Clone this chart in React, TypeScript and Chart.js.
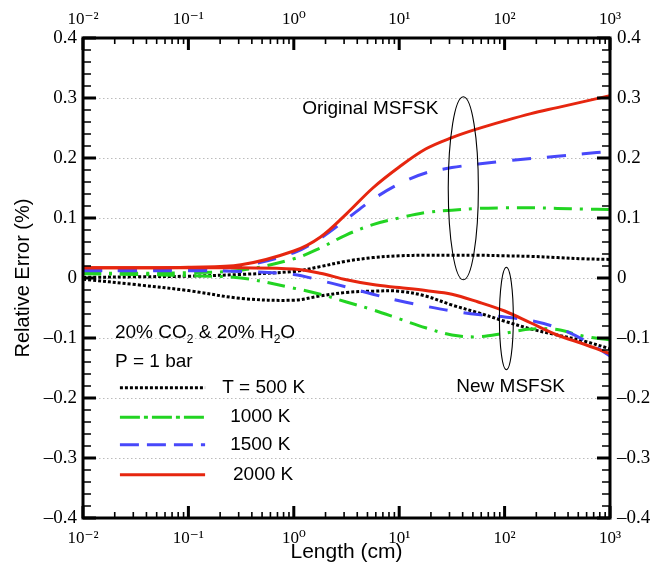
import { useEffect, useRef } from 'react';
import { Chart, registerables } from 'chart.js';
Chart.register(...registerables);

// Path length (cm)
const lengthsCm = [0.01, 0.0316, 0.1, 0.316, 1, 1.78, 3.16, 5.62, 10, 17.8, 31.6, 56.2, 100, 178, 316, 562, 1000];

// Original MSFSK relative error (%)
const orig500K = [0.001, 0.002, 0.003, 0.006, 0.011, 0.019, 0.028, 0.034, 0.037, 0.038, 0.038, 0.038, 0.037, 0.036, 0.034, 0.032, 0.031];
const orig1000K = [0.008, 0.008, 0.009, 0.013, 0.032, 0.05, 0.072, 0.089, 0.1, 0.109, 0.113, 0.116, 0.117, 0.117, 0.116, 0.115, 0.114];
const orig1500K = [0.013, 0.013, 0.015, 0.02, 0.042, 0.066, 0.098, 0.131, 0.157, 0.175, 0.184, 0.19, 0.195, 0.199, 0.203, 0.207, 0.211];
const orig2000K = [0.017, 0.017, 0.018, 0.022, 0.045, 0.068, 0.107, 0.15, 0.185, 0.215, 0.234, 0.249, 0.262, 0.274, 0.284, 0.294, 0.304];

// New MSFSK relative error (%)
const new500K = [-0.002, -0.011, -0.021, -0.034, -0.037, -0.03, -0.024, -0.022, -0.022, -0.03, -0.045, -0.058, -0.072, -0.085, -0.095, -0.105, -0.118];
const new1000K = [0.007, 0.006, 0.004, 0.0, -0.017, -0.027, -0.04, -0.053, -0.068, -0.083, -0.095, -0.098, -0.092, -0.085, -0.086, -0.097, -0.103];
const new1500K = [0.012, 0.012, 0.012, 0.011, 0.006, -0.004, -0.015, -0.027, -0.038, -0.047, -0.055, -0.061, -0.065, -0.071, -0.083, -0.103, -0.13];
const new2000K = [0.017, 0.017, 0.017, 0.017, 0.015, 0.008, -0.003, -0.011, -0.016, -0.021, -0.027, -0.04, -0.055, -0.075, -0.095, -0.11, -0.126];

const xTickValues = [0.01, 0.1, 1, 10, 100, 1000];
const xTickLabels = ['10\u207B\u00B2', '10\u207B\u00B9', '10\u2070', '10\u00B9', '10\u00B2', '10\u00B3'];
const legendLabels = ['T = 500 K', '1000 K', '1500 K', '2000 K'];

const BLACK = '#000000';
const GREEN = '#22d422';
const BLUE = '#4848fa';
const RED = '#e6260f';

const SANS = '"Liberation Sans", Arial, sans-serif';
const SERIF = '"Liberation Serif", "DejaVu Serif", serif';

const styles = [
  { color: BLACK, dash: [3, 2], legendDash: [3, 2] },
  { color: GREEN, dash: [18, 8, 3, 8], legendDash: [20, 4, 4, 4] },
  { color: BLUE, dash: [19, 16], legendDash: [19, 8] },
  { color: RED, dash: [], legendDash: [] },
];

// annotation anchors (data coordinates)
const notes = [
  { text: 'Original MSFSK', x: 1.2, y: 0.282 },
  { text: 'New MSFSK', x: 34.8, y: -0.181 },
  { text: 'P = 1 bar', x: 0.0201, y: -0.14 },
];
const mixNote = { x: 0.0201, y: -0.092 };
const legendLine = { x0: 0.0224, x1: 0.144 };
const legendRows = [
  { y: -0.183, tx: 0.209 },
  { y: -0.232, tx: 0.249 },
  { y: -0.278, tx: 0.249 },
  { y: -0.328, tx: 0.265 },
];
const ellipses = [
  { x0: 29.2, x1: 56.4, y0: -0.003, y1: 0.302 },
  { x0: 89.3, x1: 121, y0: -0.153, y1: 0.018 },
];

const decor = {
  id: 'decor',
  beforeDatasetsDraw(chart: any) {
    const { ctx, chartArea: a, scales } = chart;
    const ys = scales.y;
    ctx.save();
    ctx.strokeStyle = '#bcbcbc';
    ctx.lineWidth = 1;
    ctx.setLineDash([1.5, 2.5]);
    for (let k = -3; k <= 3; k++) {
      const py = Math.round(ys.getPixelForValue(k / 10)) + 0.5;
      ctx.beginPath();
      ctx.moveTo(a.left, py);
      ctx.lineTo(a.right, py);
      ctx.stroke();
    }
    ctx.restore();
  },
  afterDatasetsDraw(chart: any) {
    const { ctx, chartArea: a, scales } = chart;
    const xs = scales.x;
    const ys = scales.y;
    const X = (v: number) => xs.getPixelForValue(v);
    const Y = (v: number) => ys.getPixelForValue(v);
    ctx.save();
    ctx.strokeStyle = '#000';
    ctx.setLineDash([]);
    // y ticks
    for (let k = -20; k <= 20; k++) {
      const py = Y(k / 50);
      const major = k % 5 === 0;
      const len = major ? 13 : 8;
      ctx.lineWidth = major ? 3 : 1.6;
      ctx.beginPath();
      ctx.moveTo(a.left, py);
      ctx.lineTo(a.left + len, py);
      ctx.moveTo(a.right, py);
      ctx.lineTo(a.right - len, py);
      ctx.stroke();
    }
    // x ticks
    for (let e = -2; e <= 3; e++) {
      for (let m = 1; m <= 9; m++) {
        const v = m * Math.pow(10, e);
        if (v > 1000.0001) break;
        const px = X(v);
        const major = m === 1;
        const len = major ? 12 : 6;
        ctx.lineWidth = major ? 3 : 1.6;
        ctx.beginPath();
        ctx.moveTo(px, a.bottom);
        ctx.lineTo(px, a.bottom - len);
        ctx.moveTo(px, a.top);
        ctx.lineTo(px, a.top + len);
        ctx.stroke();
      }
    }
    // frame
    ctx.lineWidth = 3;
    ctx.strokeRect(a.left, a.top, a.right - a.left, a.bottom - a.top);

    // ellipses
    ctx.lineWidth = 1.1;
    for (const el of ellipses) {
      const x0 = X(el.x0), x1 = X(el.x1), y0 = Y(el.y0), y1 = Y(el.y1);
      ctx.beginPath();
      ctx.ellipse((x0 + x1) / 2, (y0 + y1) / 2, Math.abs(x1 - x0) / 2, Math.abs(y1 - y0) / 2, 0, 0, Math.PI * 2);
      ctx.stroke();
    }

    // text notes
    ctx.fillStyle = '#000';
    ctx.textBaseline = 'middle';
    ctx.textAlign = 'left';
    ctx.font = '19px ' + SANS;
    for (const n of notes) ctx.fillText(n.text, X(n.x), Y(n.y));

    // mixture note with subscripts
    const parts: [string, boolean][] = [['20% CO', false], ['2', true], [' & 20% H', false], ['2', true], ['O', false]];
    let cx = X(mixNote.x);
    const cy = Y(mixNote.y);
    for (const [t, sub] of parts) {
      ctx.font = (sub ? '12px ' : '19px ') + SANS;
      ctx.fillText(t, cx, sub ? cy + 6 : cy);
      cx += ctx.measureText(t).width;
    }

    // legend
    ctx.font = '19px ' + SANS;
    legendRows.forEach((r, i) => {
      const st = styles[i];
      const py = Y(r.y);
      ctx.save();
      ctx.strokeStyle = st.color;
      ctx.lineWidth = 3;
      ctx.setLineDash(st.legendDash);
      ctx.beginPath();
      ctx.moveTo(X(legendLine.x0), py);
      ctx.lineTo(X(legendLine.x1), py);
      ctx.stroke();
      ctx.restore();
      ctx.fillText(legendLabels[i], X(r.tx), py);
    });
    ctx.restore();
  },
};

export default function App() {
  const ref = useRef<HTMLCanvasElement>(null);
  useEffect(() => {
    const canvas = ref.current!;
    const pts = (ys: number[]) => lengthsCm.map((x, i) => ({ x, y: ys[i] }));
    const series = [
      { label: '2000 K (Original MSFSK)', data: orig2000K, s: styles[3] },
      { label: '2000 K (New MSFSK)', data: new2000K, s: styles[3] },
      { label: '1500 K (Original MSFSK)', data: orig1500K, s: styles[2] },
      { label: '1500 K (New MSFSK)', data: new1500K, s: styles[2] },
      { label: '1000 K (Original MSFSK)', data: orig1000K, s: styles[1] },
      { label: '1000 K (New MSFSK)', data: new1000K, s: styles[1] },
      { label: 'T = 500 K (Original MSFSK)', data: orig500K, s: styles[0] },
      { label: 'T = 500 K (New MSFSK)', data: new500K, s: styles[0] },
    ];
    const yTick = (v: any) => {
      const r = Math.round(Number(v) * 10) / 10;
      if (r === 0) return '0';
      return r < 0 ? '\u2013' + Math.abs(r).toFixed(1) : r.toFixed(1);
    };
    const xCommon = {
      type: 'logarithmic' as const,
      min: 0.01,
      max: 1000,
      grid: { display: false, drawTicks: false, tickLength: 0 },
      border: { display: false },
      afterBuildTicks: (s: any) => {
        s.ticks = xTickValues.map((v) => ({ value: v }));
      },
    };
    const yCommon = {
      type: 'linear' as const,
      min: -0.4,
      max: 0.4,
      grid: { display: false, drawTicks: false, tickLength: 0 },
      border: { display: false },
    };
    const chart = new Chart(canvas, {
      type: 'line',
      data: {
        datasets: series.map((d) => ({
          label: d.label,
          data: pts(d.data),
          borderColor: d.s.color,
          backgroundColor: d.s.color,
          borderWidth: 3,
          borderDash: d.s.dash,
          borderCapStyle: 'butt',
          pointRadius: 0,
          fill: false,
          tension: 0.35,
        })),
      },
      options: {
        responsive: false,
        animation: false,
        layout: { padding: 0 },
        plugins: { legend: { display: false }, tooltip: { enabled: false } },
        scales: {
          x: {
            ...xCommon,
            position: 'bottom',
            afterFit: (s: any) => { s.height = 53; },
            ticks: {
              autoSkip: false, maxRotation: 0, padding: 10, color: '#000',
              font: { family: SERIF, size: 17 },
              callback: (_v: any, i: number) => xTickLabels[i],
            },
            title: {
              display: true, text: 'Length (cm)', color: '#000',
              font: { family: SANS, size: 21 }, padding: { top: 0, bottom: 6 },
            },
          },
          x2: {
            ...xCommon,
            position: 'top',
            afterFit: (s: any) => { s.height = 38; },
            ticks: {
              autoSkip: false, maxRotation: 0, padding: 8, color: '#000',
              font: { family: SERIF, size: 17 },
              callback: (_v: any, i: number) => xTickLabels[i],
            },
          },
          y: {
            ...yCommon,
            position: 'left',
            afterFit: (s: any) => { s.width = 83; },
            ticks: { stepSize: 0.1, padding: 6, color: '#000', font: { family: SERIF, size: 19 }, callback: yTick },
            title: {
              display: true, text: 'Relative Error (%)', color: '#000',
              font: { family: SANS, size: 20 }, padding: { top: 11, bottom: 0 },
            },
          },
          y2: {
            ...yCommon,
            position: 'right',
            afterFit: (s: any) => { s.width = 48; },
            ticks: { stepSize: 0.1, padding: 7, color: '#000', font: { family: SERIF, size: 19 }, callback: yTick },
          },
        },
      } as any,
      plugins: [decor],
    });
    return () => chart.destroy();
  }, []);
  return (
    <div style={{ position: 'fixed', left: 0, top: 0, width: 658, height: 571, background: '#fff' }}>
      <canvas ref={ref} width={658} height={571} style={{ display: 'block' }} />
    </div>
  );
}
